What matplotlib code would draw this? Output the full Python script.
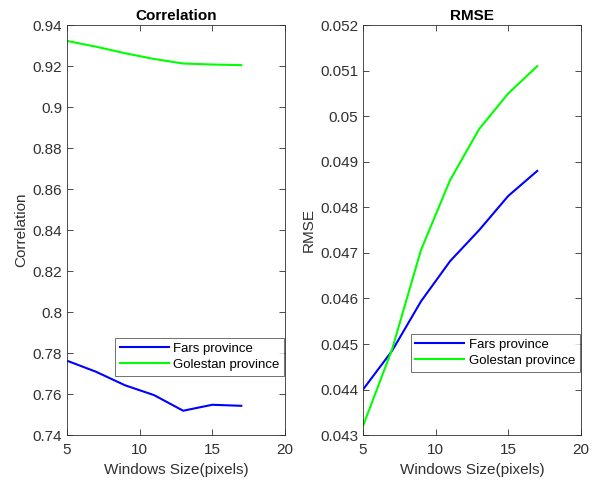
import matplotlib
matplotlib.use("Agg")
import matplotlib.pyplot as plt

# window sizes (pixels)
windows = [5, 7, 9, 11, 13, 15, 17]

# correlation per province
corr_fars = [0.7763, 0.7709, 0.7643, 0.7595, 0.7519, 0.7548, 0.7543]
corr_golestan = [0.9323, 0.9295, 0.9263, 0.9235, 0.9213, 0.9208, 0.9205]

# RMSE per province
rmse_fars = [0.0440, 0.04485, 0.04594, 0.04682, 0.0475, 0.04825, 0.0488]
rmse_golestan = [0.0432, 0.04488, 0.04707, 0.0486, 0.04972, 0.0505, 0.0511]

labels = ["Fars province", "Golestan province"]

plt.rcParams["font.family"] = ["Liberation Sans", "DejaVu Sans"]
gray = "#303030"

fig = plt.figure(figsize=(6, 4.84), dpi=100)
ax1 = fig.add_axes([0.1117, 0.101, 0.363, 0.847])
ax2 = fig.add_axes([0.605, 0.101, 0.363, 0.847])


def style(ax, title, ylabel):
    ax.set_title(title, fontsize=11, fontweight="bold", pad=4)
    ax.set_xlabel("Windows Size(pixels)", fontsize=11, color=gray, labelpad=4)
    ax.set_ylabel(ylabel, fontsize=11, color=gray, labelpad=3)
    ax.set_xlim(5, 20)
    ax.set_xticks([5, 10, 15, 20])
    ax.tick_params(direction="in", top=True, right=True, labelsize=11,
                   colors=gray, length=4, width=0.6)
    ax.tick_params(axis="x", pad=6)
    for s in ax.spines.values():
        s.set_color(gray)
        s.set_linewidth(0.6)


def legend(ax, anchor):
    leg = ax.legend(loc="lower right", bbox_to_anchor=anchor, fontsize=9.5,
                    frameon=True, fancybox=False, edgecolor=gray,
                    handlelength=3.7, borderpad=0.35, labelspacing=0.3,
                    handletextpad=0.35, borderaxespad=0)
    leg.get_frame().set_linewidth(0.6)


ax1.plot(windows, corr_fars, color=(0, 0, 1), lw=1.5, label=labels[0])
ax1.plot(windows, corr_golestan, color=(0, 1, 0), lw=1.5, label=labels[1])
style(ax1, "Correlation", "Correlation")
ax1.set_ylim(0.74, 0.94)
ax1.set_yticks([0.74, 0.76, 0.78, 0.8, 0.82, 0.84, 0.86, 0.88, 0.9, 0.92, 0.94])
ax1.set_yticklabels(["0.74", "0.76", "0.78", "0.8", "0.82", "0.84", "0.86",
                     "0.88", "0.9", "0.92", "0.94"])
legend(ax1, (0.997, 0.145))

ax2.plot(windows, rmse_fars, color=(0, 0, 1), lw=1.5, label=labels[0])
ax2.plot(windows, rmse_golestan, color=(0, 1, 0), lw=1.5, label=labels[1])
style(ax2, "RMSE", "RMSE")
ax2.set_ylim(0.043, 0.052)
ax2.set_yticks([0.043, 0.044, 0.045, 0.046, 0.047, 0.048, 0.049, 0.05, 0.051, 0.052])
ax2.set_yticklabels(["0.043", "0.044", "0.045", "0.046", "0.047", "0.048",
                     "0.049", "0.05", "0.051", "0.052"])
legend(ax2, (0.995, 0.155))

fig.savefig("out.png", dpi=100)
